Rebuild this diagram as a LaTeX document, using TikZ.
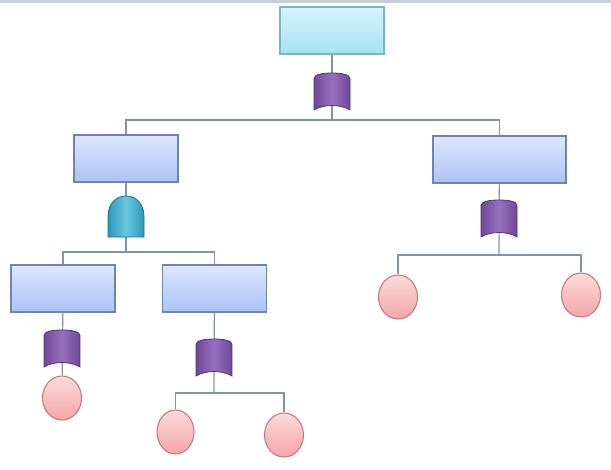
\documentclass[tikz,border=0pt]{standalone}
\usepackage{tikz}
\usetikzlibrary{shapes.geometric}

\definecolor{wirecol}{RGB}{128,150,168}
\definecolor{topfill}{RGB}{212,244,251}
\definecolor{topfillb}{RGB}{166,226,244}
\definecolor{topline}{RGB}{120,182,192}
\definecolor{boxfill}{RGB}{222,230,252}
\definecolor{boxfillb}{RGB}{170,196,246}
\definecolor{boxline}{RGB}{110,132,170}
\definecolor{evfill}{RGB}{252,218,218}
\definecolor{evfillb}{RGB}{244,166,168}
\definecolor{evline}{RGB}{196,120,124}
\definecolor{orfill}{RGB}{112,72,150}
\definecolor{orlight}{RGB}{150,112,190}
\definecolor{orline}{RGB}{84,50,120}
\definecolor{andfill}{RGB}{44,152,184}
\definecolor{andlight}{RGB}{104,200,224}
\definecolor{andline}{RGB}{30,110,140}
\definecolor{stripe}{RGB}{197,207,220}

\tikzset{
  wire/.style={draw=wirecol, line width=0.9pt},
  topbox/.style={rectangle, draw=topline, line width=0.8pt, top color=topfill, bottom color=topfillb, minimum width=78pt, minimum height=35.25pt, inner sep=0pt},
  midbox/.style={rectangle, draw=boxline, line width=0.8pt, top color=boxfill, bottom color=boxfillb, minimum width=78pt, minimum height=35.25pt, inner sep=0pt},
  event/.style={ellipse, draw=evline, line width=0.8pt, top color=evfill, bottom color=evfillb, minimum width=29.25pt, minimum height=33pt, inner sep=0pt},
  orgate/.pic={
    \path[draw=orline, line width=0.6pt, left color=orfill, right color=orfill, middle color=orlight]
      (-18,13) .. controls (-18,17) and (-10,18.5) .. (0,18.5)
      .. controls (10,18.5) and (18,17) .. (18,13) -- (18,-18.5)
      .. controls (8,-12.5) and (-8,-12.5) .. (-18,-18.5) -- cycle;
  },
  andgate/.pic={
    \path[draw=andline, line width=0.6pt, left color=andfill, right color=andfill, middle color=andlight]
      (-18,-20.5) -- (-18,0) .. controls (-18,13) and (-10,20.5) .. (0,20.5)
      .. controls (10,20.5) and (18,13) .. (18,0) -- (18,-20.5) -- cycle;
  }
}

\begin{document}
\begin{tikzpicture}[x=0.75pt,y=0.75pt,yscale=-1,xscale=1]
\useasboundingbox (0,0) rectangle (611,469);
%top stripe
\fill[stripe] (0,0) rectangle (611,3);

%Boxes
\node[topbox] (top) at (332,30.5) {};
\node[midbox] (left) at (126,158.5) {};
\node[midbox, minimum width=99.75pt] (right) at (499.5,159.5) {};
\node[midbox] (leftA) at (63,288.5) {};
\node[midbox] (leftB) at (214.5,288.5) {};

%Events
\node[event] (evA) at (62,398) {};
\node[event, minimum width=27.75pt] (evB) at (175.5,432) {};
\node[event] (evC) at (284,435) {};
\node[event] (evD) at (398,297) {};
\node[event] (evE) at (581,295) {};

%Gates and branch points
\coordinate (gTop) at (332,91.5);
\coordinate (gLeft) at (126,216.5);
\coordinate (gRight) at (499,218.5);
\coordinate (gLeftA) at (62,348.5);
\coordinate (gLeftB) at (214,357.5);
\coordinate (jTop) at (332,120);
\coordinate (jLeft) at (126,252);
\coordinate (jRight) at (499,255);
\coordinate (jLeftB) at (214,393);

%Connectors
\draw[wire] (top) -- (jTop);
\draw[wire] (jTop) -| (left);
\draw[wire] (jTop) -| (right);
\draw[wire] (left) -- (jLeft);
\draw[wire] (jLeft) -| (leftA);
\draw[wire] (jLeft) -| (leftB);
\draw[wire] (right) -- (jRight);
\draw[wire] (jRight) -| (evD);
\draw[wire] (jRight) -| (evE);
\draw[wire] (leftA) -- (evA);
\draw[wire] (leftB) -- (jLeftB);
\draw[wire] (jLeftB) -| (evB);
\draw[wire] (jLeftB) -| (evC);

%Gates
\pic at (gTop) {orgate};
\pic at (gLeft) {andgate};
\pic at (gRight) {orgate};
\pic at (gLeftA) {orgate};
\pic at (gLeftB) {orgate};

\end{tikzpicture}
\end{document}
